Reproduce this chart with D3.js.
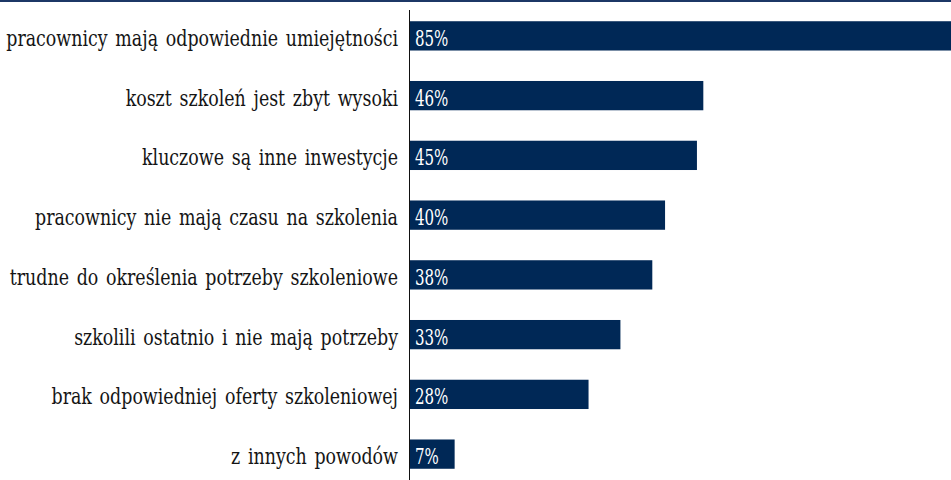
<!DOCTYPE html>
<html>
<head>
<meta charset="utf-8">
<script src="https://cdn.jsdelivr.net/npm/d3@7"></script>
<style>
  html, body { margin: 0; padding: 0; background: #fff; }
  svg { display: block; }
</style>
</head>
<body>
<svg id="chart" width="951" height="480"></svg>
<script>
// Reasons companies give for not training staff (share of answers, %)
const categories = [
  "pracownicy mają odpowiednie umiejętności",
  "koszt szkoleń jest zbyt wysoki",
  "kluczowe są inne inwestycje",
  "pracownicy nie mają czasu na szkolenia",
  "trudne do określenia potrzeby szkoleniowe",
  "szkolili ostatnio i nie mają potrzeby",
  "brak odpowiedniej oferty szkoleniowej",
  "z innych powodów"
];
const values = [85, 46, 45, 40, 38, 33, 28, 7];
const valueLabels = values.map(v => v + "%");

const W = 951, H = 480;
const axisX = 410;
const fontFamily = "'DejaVu Serif Condensed', 'DejaVu Serif', serif";
const navy = "#002856";
const fontSize = 22;
const catScaleX = 0.88;   // narrow, tall-looking serif
const valScaleX = 0.76;
const baselineShift = 10;

const svg = d3.select("#chart");

const x = d3.scaleLinear().domain([0, 85]).range([axisX, 952]);
const y = d3.scaleBand()
  .domain(categories)
  .range([6, 484])
  .paddingInner(0.51)
  .paddingOuter(0.255);

// top rule
svg.append("rect")
  .attr("x", 0).attr("y", 0)
  .attr("width", W).attr("height", 2)
  .attr("fill", "#1c3766");

// bars
svg.append("g").selectAll("rect")
  .data(values)
  .join("rect")
  .attr("x", x(0))
  .attr("y", (d, i) => y(categories[i]))
  .attr("width", d => x(d) - x(0))
  .attr("height", y.bandwidth())
  .attr("fill", navy);

// value labels inside bars
svg.append("g").selectAll("text")
  .data(values)
  .join("text")
  .attr("transform", (d, i) =>
    `translate(${x(0) + 5},${y(categories[i]) + y.bandwidth() / 2 + baselineShift}) scale(${valScaleX},1)`)
  .attr("fill", "#fff")
  .attr("font-family", fontFamily)
  .attr("font-size", fontSize)
  .text((d, i) => valueLabels[i]);

// category axis
const axis = d3.axisLeft(y).tickSize(0).tickPadding(0);
const gAxis = svg.append("g")
  .attr("transform", `translate(${axisX - 12},0)`)
  .call(axis);
gAxis.select(".domain").remove();
gAxis.selectAll("text")
  .attr("x", 0)
  .attr("dy", null)
  .attr("transform", `translate(0,${baselineShift}) scale(${catScaleX},1)`)
  .attr("font-family", fontFamily)
  .attr("font-size", fontSize)
  .attr("word-spacing", 2.5)
  .attr("fill", "#151515");

svg.append("line")
  .attr("x1", axisX - 0.5).attr("x2", axisX - 0.5)
  .attr("y1", 10).attr("y2", H)
  .attr("stroke", "#111")
  .attr("stroke-width", 1);
</script>
</body>
</html>
